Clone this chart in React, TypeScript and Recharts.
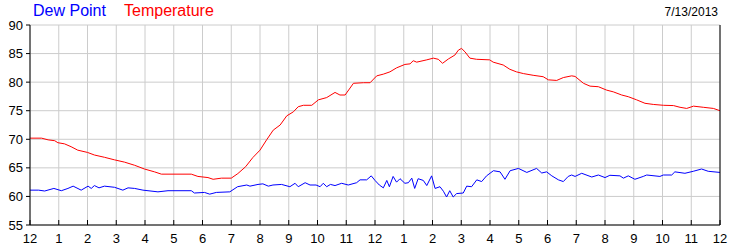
import { LineChart, Line, XAxis, YAxis, CartesianGrid } from "recharts";

// hour of day (0 = midnight) for each reading
const tempHours = [
  0, 0.4, 0.63, 0.86, 0.97, 1.2, 1.43, 1.66, 2.0, 2.24, 2.59, 2.94, 3.29, 3.64, 3.98, 4.33, 4.57,
  5.61, 5.84, 6.19, 6.37, 6.66, 7.0, 7.23, 7.5, 7.75, 8.0, 8.23, 8.46, 8.7, 8.93, 9.16, 9.33, 9.51,
  9.8, 10.03, 10.32, 10.61, 10.78, 10.96, 11.25, 11.6, 11.83, 12.06, 12.29, 12.52, 12.75, 13.04,
  13.22, 13.33, 13.45, 13.8, 14.03, 14.2, 14.35, 14.55, 14.78, 14.9, 15.01, 15.13, 15.3, 15.53,
  15.99, 16.11, 16.46, 16.69, 16.92, 17.16, 17.5, 17.85, 18.03, 18.32, 18.55, 18.84, 18.96, 19.25,
  19.48, 19.77, 20.06, 20.29, 20.58, 20.81, 21.1, 21.39, 21.68, 22.03, 22.38, 22.61, 22.84, 23.08,
  23.42, 23.77, 24,
];
const tempValues = [
  70.2, 70.2, 69.9, 69.75, 69.4, 69.2, 68.7, 68.1, 67.7, 67.25, 66.85, 66.4, 66.0, 65.45, 64.8, 64.3, 63.9,
  63.9, 63.5, 63.3, 63.0, 63.2, 63.2, 64.0, 65.2, 66.8, 68.1, 69.9, 71.6, 72.5, 74.1, 74.8, 75.7, 75.95,
  75.95, 76.9, 77.3, 78.2, 77.75, 77.75, 79.8, 79.9, 79.9, 81.1, 81.4, 81.8, 82.5, 83.1,
  83.2, 83.75, 83.5, 83.9, 84.2, 84.0, 83.3, 84.05, 84.75, 85.6, 85.9, 85.3, 84.2, 84.0,
  83.9, 83.5, 83.0, 82.25, 81.8, 81.5, 81.2, 80.95, 80.4, 80.3, 80.8, 81.1, 81.0, 79.8,
  79.3, 79.2, 78.6, 78.3, 77.75, 77.45, 76.9, 76.3, 76.1, 75.95, 75.9, 75.6, 75.4, 75.8,
  75.6, 75.4, 75.0,
];

const dewHours = [
  0, 0.3, 0.51, 0.83, 1.09, 1.32, 1.5, 1.78, 2.02, 2.13, 2.24, 2.4, 2.59, 2.94, 3.23, 3.41, 3.64,
  3.93, 4.45, 4.8, 5.61, 5.72, 6.07, 6.25, 6.48, 6.95, 7.22, 7.54, 7.65, 7.93, 8.1, 8.29, 8.45,
  8.75, 9.04, 9.22, 9.33, 9.57, 9.74, 9.95, 10.09, 10.2, 10.32, 10.45, 10.61, 10.84, 11.07, 11.36,
  11.48, 11.71, 11.87, 12.0, 12.15, 12.29, 12.41, 12.5, 12.63, 12.75, 12.87, 13.04, 13.16, 13.28,
  13.38, 13.5, 13.68, 13.8, 13.97, 14.09, 14.26, 14.38, 14.49, 14.6, 14.72, 14.84, 15.07, 15.19,
  15.36, 15.54, 15.71, 15.88, 16.12, 16.35, 16.52, 16.7, 16.99, 17.28, 17.62, 17.8, 17.97, 18.15,
  18.38, 18.55, 18.72, 18.84, 18.96, 19.19, 19.54, 19.77, 20.0, 20.17, 20.52, 20.64, 20.81, 21.04,
  21.33, 21.45, 21.91, 22.03, 22.32, 22.43, 22.78, 23.07, 23.36, 23.59, 24,
];
const dewValues = [
  61.1, 61.1, 60.95, 61.4, 61.0, 61.4, 61.8, 61.1, 61.8, 61.4, 61.9, 61.5, 61.8, 61.6, 61.1, 61.5, 61.4,
  61.1, 60.8, 61.0, 61.0, 60.6, 60.7, 60.4, 60.7, 60.8, 61.7, 62.0, 61.8, 62.1, 62.2, 61.8, 62.0,
  62.1, 61.7, 62.3, 61.7, 62.4, 62.0, 62.0, 61.7, 62.3, 61.7, 62.1, 61.9, 62.3, 62.0, 62.4,
  62.9, 62.9, 63.6, 62.8, 62.0, 61.5, 62.8, 61.7, 63.5, 62.5, 63.1, 62.3, 62.4, 63.2,
  61.4, 63.1, 62.8, 61.9, 63.6, 61.4, 61.7, 60.9, 59.9, 61.0, 59.9, 60.5, 60.6, 61.8,
  61.7, 62.9, 62.6, 63.6, 64.5, 64.3, 63.0, 64.5, 64.9, 64.2, 64.9, 64.1, 64.3, 63.6,
  62.9, 62.6, 63.5, 63.75, 63.5, 64.05, 63.4, 63.75, 63.3, 63.7, 63.6, 63.2, 63.6, 63.0,
  63.5, 63.75, 63.5, 63.75, 63.75, 64.3, 64.05, 64.4, 64.8, 64.4, 64.2,
];

const hourTicks = [0, 1, 2, 3, 4, 5, 6, 7, 8, 9, 10, 11, 12, 13, 14, 15, 16, 17, 18, 19, 20, 21, 22, 23, 24];
const hourLabels = ["12", "1", "2", "3", "4", "5", "6", "7", "8", "9", "10", "11", "12", "1", "2", "3", "4", "5", "6", "7", "8", "9", "10", "11", "12"];
const degreeTicks = [55, 60, 65, 70, 75, 80, 85, 90];

const tempData = tempHours.map((h, i) => ({ h, v: tempValues[i] }));
const dewData = dewHours.map((h, i) => ({ h, v: dewValues[i] }));

// ticks point into the plot, label sits under the axis
const BottomTick = (props: any) => {
  const { x, y, payload } = props;
  return (
    <g>
      <line x1={x} x2={x} y1={y - 5} y2={y} stroke="#000" />
      <text x={x} y={y + 18} textAnchor="middle" fontSize={13} fill="#000">
        {hourLabels[hourTicks.indexOf(payload.value)]}
      </text>
    </g>
  );
};

const TopTick = (props: any) => {
  const { x, y } = props;
  return <line x1={x} x2={x} y1={y} y2={y + 5} stroke="#000" />;
};

export default function App() {
  return (
    <div style={{ position: "absolute", left: 0, top: 0, width: 750, height: 250, fontFamily: "'Liberation Sans', Arial, sans-serif" }}>
      <div style={{ position: "absolute", left: 33, top: 2, fontSize: 16, color: "#0000ff", whiteSpace: "nowrap" }}>Dew Point</div>
      <div style={{ position: "absolute", left: 124, top: 2, fontSize: 16, color: "#ff0000", whiteSpace: "nowrap" }}>Temperature</div>
      <div style={{ position: "absolute", right: 32, top: 5, fontSize: 12, color: "#000", whiteSpace: "nowrap" }}>7/13/2013</div>
      <LineChart width={750} height={250} data={tempData} margin={{ top: 25, right: 0, bottom: 0, left: 0 }}>
        <CartesianGrid stroke="#cccccc" strokeWidth={1} />
        <XAxis
          dataKey="h"
          type="number"
          domain={[0, 24]}
          ticks={hourTicks}
          interval={0}
          height={25}
          axisLine={{ stroke: "#000" }}
          tickLine={false}
          tickSize={0}
          tickMargin={0}
          tick={<BottomTick />}
        />
        <XAxis
          xAxisId="top"
          orientation="top"
          dataKey="h"
          type="number"
          domain={[0, 24]}
          ticks={hourTicks}
          interval={0}
          height={0}
          axisLine={{ stroke: "#000" }}
          tickLine={false}
          tickSize={0}
          tickMargin={0}
          tick={<TopTick />}
        />
        <YAxis
          type="number"
          domain={[55, 90]}
          ticks={degreeTicks}
          interval={0}
          width={30}
          axisLine={{ stroke: "#000" }}
          tickLine={{ stroke: "#000" }}
          tickSize={4}
          tickMargin={3}
          tick={{ fill: "#000", fontSize: 13 }}
        />
        <YAxis
          yAxisId="right"
          orientation="right"
          type="number"
          domain={[55, 90]}
          ticks={degreeTicks}
          interval={0}
          width={30}
          axisLine={{ stroke: "#000" }}
          tickLine={{ stroke: "#000" }}
          tickSize={4}
          tickMargin={3}
          tick={{ fill: "#000", fontSize: 13 }}
        />
        <Line data={dewData} dataKey="v" type="linear" stroke="#0000ff" strokeWidth={1} dot={false} activeDot={false} isAnimationActive={false} />
        <Line data={tempData} dataKey="v" type="linear" stroke="#ff0000" strokeWidth={1} dot={false} activeDot={false} isAnimationActive={false} />
      </LineChart>
    </div>
  );
}
